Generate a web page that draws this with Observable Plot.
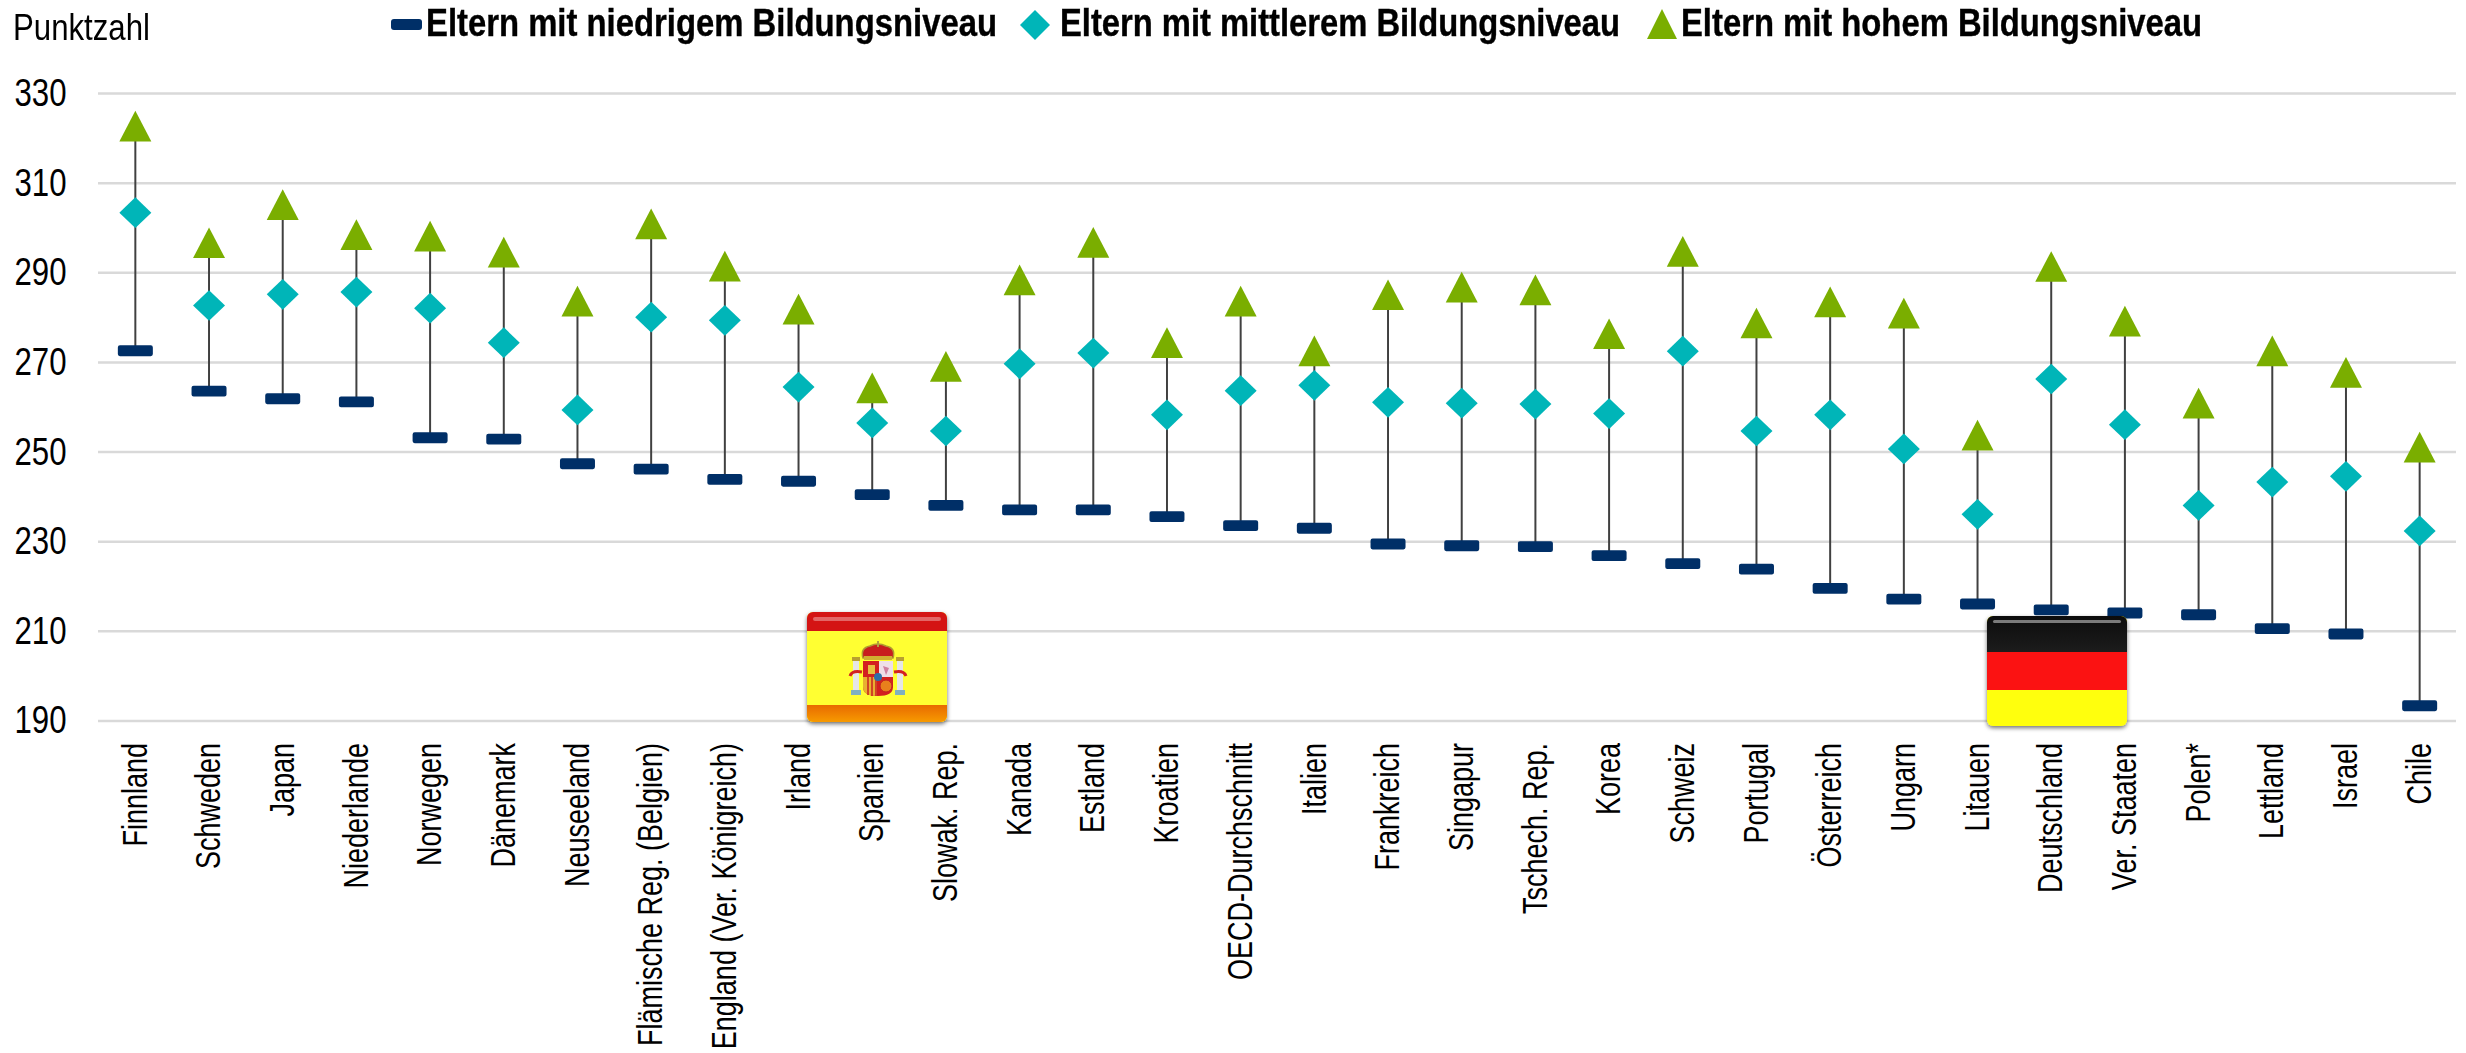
<!DOCTYPE html>
<html><head><meta charset="utf-8">
<script src="https://cdn.jsdelivr.net/npm/d3@7"></script>
<script src="https://cdn.jsdelivr.net/npm/@observablehq/plot@0.6"></script>
<style>
html,body{margin:0;background:#fff;overflow:hidden}
#wrap{position:relative;width:2466px;height:1053px;font-family:"Liberation Sans",Arial,sans-serif}
#wrap>svg{position:absolute;left:0;top:0}
.t{position:absolute;white-space:nowrap;line-height:1;color:#000;transform-origin:0 0}
.leg{font-weight:bold;font-size:38px;-webkit-text-stroke:.4px #000}
.ov{position:absolute;overflow:visible}
</style></head><body><div id="wrap"></div>
<script>
const countries=["Finnland","Schweden","Japan","Niederlande","Norwegen","Dänemark","Neuseeland","Flämische Reg. (Belgien)","England (Ver. Königreich)","Irland","Spanien","Slowak. Rep.","Kanada","Estland","Kroatien","OECD-Durchschnitt","Italien","Frankreich","Singapur","Tschech. Rep.","Korea","Schweiz","Portugal","Österreich","Ungarn","Litauen","Deutschland","Ver. Staaten","Polen*","Lettland","Israel","Chile"];
const low=[272.6,263.6,261.9,261.2,253.2,252.9,247.4,246.2,243.9,243.5,240.5,238.1,237.1,237.1,235.6,233.6,233,229.5,229.1,228.9,226.9,225.1,223.9,219.6,217.2,216.1,214.8,214.1,213.7,210.6,209.4,193.4];
const mid=[303.4,282.7,285.2,285.7,282.1,274.4,259.4,280.1,279.4,264.5,256.5,254.7,269.7,272.1,258.3,263.7,264.9,261.1,260.9,260.7,258.6,272.5,254.7,258.3,250.7,236.1,266.3,256.1,238.1,243.3,244.6,232.4];
const high=[322.7,296.7,305.2,298.5,298.2,294.6,283.7,300.9,291.5,281.9,264.3,269.1,288.4,296.8,274.4,283.7,272.6,285.1,286.8,286.2,276.4,294.8,278.8,283.5,281,253.8,291.4,279.2,260.9,272.6,267.8,251.1];
const yTicks=[190,210,230,250,270,290,310,330];
const colors={low:"#002F67",mid:"#00B5B8",high:"#7AAE00",rule:"#404040",grid:"#D9D9D9"};
const labels=["Eltern mit niedrigem Bildungsniveau","Eltern mit mittlerem Bildungsniveau","Eltern mit hohem Bildungsniveau"];
const rows=countries.map((c,i)=>({c,low:low[i],mid:mid[i],high:high[i]}));
const sans='"Liberation Sans",Arial,sans-serif';

// Marker shapes, scaled from the dot's r
const tri={draw(ctx,size){const r=Math.sqrt(size/Math.PI),h=r*0.96;ctx.moveTo(0,-h);ctx.lineTo(r,h);ctx.lineTo(-r,h);ctx.closePath();}};
const dia={draw(ctx,size){const r=Math.sqrt(size/Math.PI),h=r*0.96;ctx.moveTo(0,-h);ctx.lineTo(r,0);ctx.lineTo(0,h);ctx.lineTo(-r,0);ctx.closePath();}};
const dash={draw(ctx,size){const r=Math.sqrt(size/Math.PI),w=r,h=r*0.31,q=r*0.12;
 ctx.moveTo(-w+q,-h);ctx.lineTo(w-q,-h);ctx.arcTo(w,-h,w,-h+q,q);ctx.lineTo(w,h-q);ctx.arcTo(w,h,w-q,h,q);ctx.lineTo(-w+q,h);ctx.arcTo(-w,h,-w,h-q,q);ctx.lineTo(-w,-h+q);ctx.arcTo(-w,-h,-w+q,-h,q);ctx.closePath();}};

const chart=Plot.plot({
 width:2466,height:1053,marginTop:93,marginBottom:332.5,marginLeft:98,marginRight:10,
 style:{background:"transparent",overflow:"visible"},
 x:{domain:countries,type:"band",padding:0,round:false,label:null,axis:null},
 y:{domain:[190,330],label:null,axis:null},
 marks:[
  Plot.ruleY(yTicks,{stroke:colors.grid,strokeWidth:2.5}),
  Plot.axisY({ticks:yTicks,tickSize:0,tickPadding:32,label:null,fontSize:39,fontFamily:sans,tickFormat:d=>d,fill:"#000"}),
  Plot.axisX({tickRotate:-90,tickSize:0,tickPadding:22,label:null,fontSize:35,fontFamily:sans,fill:"#000"}),
  Plot.ruleX(rows,{x:"c",y1:"low",y2:"high",stroke:colors.rule,strokeWidth:2}),
  Plot.dot(rows,{x:"c",y:"low",r:17.5,symbol:dash,fill:colors.low,stroke:null}),
  Plot.dot(rows,{x:"c",y:"mid",r:16,symbol:dia,fill:colors.mid,stroke:null}),
  Plot.dot(rows,{x:"c",y:"high",r:16,symbol:tri,fill:colors.high,stroke:null})
 ]
});
const wrap=document.getElementById("wrap");
wrap.appendChild(chart);

// The source's text is condensed along its reading direction
const squeeze=(sel,k)=>chart.querySelectorAll(sel).forEach(t=>{t.setAttribute("textLength",t.getComputedTextLength()*k);t.setAttribute("lengthAdjust","spacingAndGlyphs");});
squeeze('g[aria-label="y-axis tick label"] text',0.8);
squeeze('g[aria-label="x-axis tick label"] text',27/35);

function text(s,x,y,w,cls,size){const d=document.createElement("div");d.className="t "+(cls||"");d.textContent=s;d.style.left=x+"px";d.style.top=y+"px";if(size)d.style.fontSize=size+"px";wrap.appendChild(d);d.style.transform=`scaleX(${w/d.getBoundingClientRect().width})`;return d;}
text("Punktzahl",13,9,137,"",37);
text(labels[0],426,4,571,"leg");
text(labels[1],1060,4,560,"leg");
text(labels[2],1681,4,521,"leg");

// Legend keys and flag overlays
const ov=document.createElementNS("http://www.w3.org/2000/svg","svg");
ov.setAttribute("class","ov");ov.setAttribute("width",2466);ov.setAttribute("height",1053);ov.style.left=0;ov.style.top=0;
ov.innerHTML=`
<defs>
<filter id="sh" x="-5%" y="-5%" width="110%" height="115%"><feDropShadow dx="0" dy="2" stdDeviation="2" flood-color="#000" flood-opacity=".55"/></filter>
<linearGradient id="orange" x1="0" y1="0" x2="0" y2="1"><stop offset="0" stop-color="#E86A00"/><stop offset="1" stop-color="#F79A00"/></linearGradient>
<linearGradient id="black" x1="0" y1="0" x2="0" y2="1"><stop offset="0" stop-color="#0c0c0c"/><stop offset="1" stop-color="#1c1c1c"/></linearGradient>
<clipPath id="cs"><rect x="807" y="612" width="140" height="110" rx="6"/></clipPath>
<clipPath id="cd"><rect x="1987" y="616" width="140" height="110" rx="6"/></clipPath>
</defs>
<rect x="391" y="19" width="31" height="11" rx="3" fill="${colors.low}"/>
<path d="M1035 10L1050 25L1035 40L1020 25Z" fill="${colors.mid}"/>
<path d="M1662 9L1677 39L1647 39Z" fill="${colors.high}"/>
<g filter="url(#sh)"><rect x="807" y="612" width="140" height="110" rx="6" fill="#FFFF33"/></g>
<g clip-path="url(#cs)">
<rect x="807" y="612" width="140" height="19" fill="#D41414"/>
<rect x="813" y="617" width="128" height="4" rx="2" fill="#fff" opacity=".35"/>
<rect x="807" y="705" width="140" height="17" fill="url(#orange)"/>
<path d="M863 661H893V687Q893 696 878 696Q863 696 863 687Z" fill="#D32020"/>
<path d="M863 677H877V696Q863 696 863 687Z" fill="#E8B030"/>
<path d="M868 677V695M872 677V696M876 677V696" stroke="#C82020" stroke-width="1.5"/>
<rect x="879" y="661" width="14" height="16" fill="#EEDFE8"/>
<rect x="868" y="665" width="7" height="9" fill="#E8C040"/>
<path d="M883 666L889 668L886 675Z" fill="#D080A0"/>
<circle cx="886" cy="686" r="6" fill="#E8801C" stroke="#C02020"/>
<circle cx="878" cy="677" r="4" fill="#2F6FA8"/>
<path d="M863 658Q860 648 870 646Q878 642 886 646Q896 648 893 658Z" fill="#C81E1E" stroke="#B09A30" stroke-width="1.5"/>
<rect x="877" y="641" width="2" height="6" fill="#B0A040"/>
<rect x="864" y="656" width="28" height="4" fill="#D0B030"/>
<rect x="853" y="661" width="6" height="30" fill="#E6E6E6"/><rect x="897" y="661" width="6" height="30" fill="#E6E6E6"/>
<rect x="851" y="690" width="10" height="5" fill="#7FB0C0"/><rect x="895" y="690" width="10" height="5" fill="#7FB0C0"/>
<rect x="852" y="657" width="8" height="4" fill="#B8A030"/><rect x="896" y="657" width="8" height="4" fill="#B8A030"/>
<path d="M850 676Q852 670 862 672M906 676Q904 670 894 672" stroke="#D32020" stroke-width="3" fill="none"/>
</g>
<g filter="url(#sh)"><rect x="1987" y="616" width="140" height="110" rx="6" fill="#FFFF10"/></g>
<g clip-path="url(#cd)">
<rect x="1987" y="616" width="140" height="36" fill="url(#black)"/>
<rect x="1993" y="620" width="128" height="3" rx="1.5" fill="#fff" opacity=".45"/>
<rect x="1987" y="652" width="140" height="38" fill="#FB1212"/>
</g>`;
wrap.appendChild(ov);
</script></body></html>
